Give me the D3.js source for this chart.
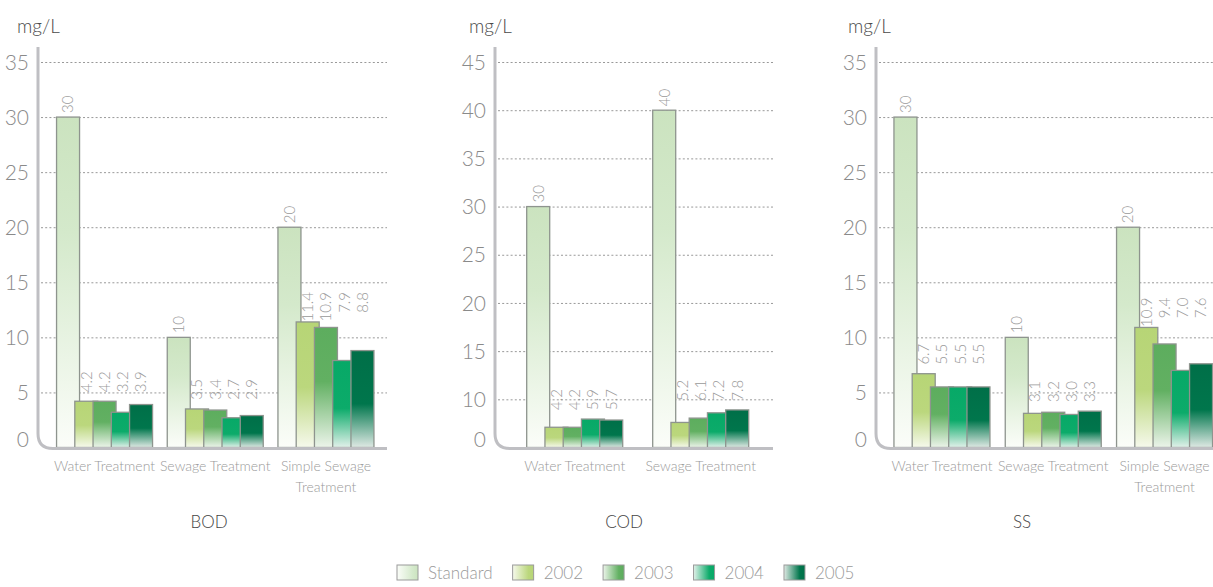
<!DOCTYPE html>
<html>
<head>
<meta charset="utf-8">
<script src="https://cdn.jsdelivr.net/npm/d3@7"></script>
<style>
  html, body { margin: 0; padding: 0; background: #fff; }
  svg { display: block; font-family: Lato, "Open Sans", sans-serif; font-weight: 300; }
</style>
</head>
<body>
<svg id="chart" width="1213" height="587"></svg>
<script>
// ---- data ----
const seriesNames = ["Standard", "2002", "2003", "2004", "2005"];

const bodCategories = ["Water Treatment", "Sewage Treatment", "Simple Sewage Treatment"];
const bodStandard = [30, 10, 20];
const bod2002 = [4.2, 3.5, 11.4];
const bod2003 = [4.2, 3.4, 10.9];
const bod2004 = [3.2, 2.7, 7.9];
const bod2005 = [3.9, 2.9, 8.8];
const bodTicks = [0, 5, 10, 15, 20, 25, 30, 35];

const codCategories = ["Water Treatment", "Sewage Treatment"];
const codStandard = [30, 40];
const cod2002 = [4.2, 5.2];
const cod2003 = [4.2, 6.1];
const cod2004 = [5.9, 7.2];
const cod2005 = [5.7, 7.8];
const codTicks = [0, 10, 15, 20, 25, 30, 35, 40, 45];

const ssCategories = ["Water Treatment", "Sewage Treatment", "Simple Sewage Treatment"];
const ssStandard = [30, 10, 20];
const ss2002 = [6.7, 3.1, 10.9];
const ss2003 = [5.5, 3.2, 9.4];
const ss2004 = [5.5, 3.0, 7.0];
const ss2005 = [5.5, 3.3, 7.6];
const ssTicks = [0, 5, 10, 15, 20, 25, 30, 35];

const unitLabel = "mg/L";

// ---- panel layout ----
const panels = [
  { title: "BOD", categories: bodCategories, values: [bodStandard, bod2002, bod2003, bod2004, bod2005], ticks: bodTicks,
    axisX: 38, right: 387, bandStart: 49.2, bandStep: 110.7, titleX: 209, unitX: 17 },
  { title: "COD", categories: codCategories, values: [codStandard, cod2002, cod2003, cod2004, cod2005], ticks: codTicks,
    axisX: 495, right: 773, bandStart: 511.7, bandStep: 126, titleX: 624, unitX: 469 },
  { title: "SS", categories: ssCategories, values: [ssStandard, ss2002, ss2003, ss2004, ss2005], ticks: ssTicks,
    axisX: 876, right: 1213, bandStart: 886.3, bandStep: 111.3, titleX: 1022, unitX: 848 }
];

const plotTop = 62, plotBottom = 447.5, axisTop = 47;
const barW = 23, groupW = 96;

// fill colours for each series: [top colour, colour held down to `hold`, pale bottom colour]
const fills = {
  "Standard": { top: "#cbe3bf", mid: "#d4e9cb", hold: 0.35, low: "#fbfdf9" },
  "2002":     { top: "#b7d576", mid: "#bbd77d", hold: 0.52, low: "#f6f9ec" },
  "2003":     { top: "#5dad5e", mid: "#62b062", hold: 0.45, low: "#ecf4ea" },
  "2004":     { top: "#07a967", mid: "#0cab6a", hold: 0.55, low: "#e2f1ea" },
  "2005":     { top: "#006f48", mid: "#00764c", hold: 0.55, low: "#dfe9e4" }
};

const svg = d3.select("#chart");
const defs = svg.append("defs");

seriesNames.forEach((s, i) => {
  const f = fills[s];
  const g = defs.append("linearGradient").attr("id", "bar-" + i)
    .attr("x1", 0).attr("y1", 0).attr("x2", 0).attr("y2", 1);
  g.append("stop").attr("offset", 0).attr("stop-color", f.top);
  g.append("stop").attr("offset", f.hold).attr("stop-color", f.mid);
  g.append("stop").attr("offset", 1).attr("stop-color", f.low);

  const h = defs.append("linearGradient").attr("id", "key-" + i)
    .attr("x1", 0).attr("y1", 0).attr("x2", 1).attr("y2", 0);
  h.append("stop").attr("offset", 0).attr("stop-color", f.low);
  h.append("stop").attr("offset", 0.75).attr("stop-color", f.mid);
  h.append("stop").attr("offset", 1).attr("stop-color", f.top);
});

const fmtStd = d3.format("d");
const fmtYear = d3.format(".1f");

function wrap(text, width) {
  text.each(function () {
    const t = d3.select(this);
    const words = t.text().split(/\s+/);
    const x = t.attr("x");
    t.text(null);
    let line = [];
    let tspan = t.append("tspan").attr("x", x).attr("dy", 0);
    words.forEach(w => {
      line.push(w);
      tspan.text(line.join(" "));
      if (tspan.node().getComputedTextLength() > width && line.length > 1) {
        line.pop();
        tspan.text(line.join(" "));
        line = [w];
        tspan = t.append("tspan").attr("x", x).attr("dy", 21).text(w);
      }
    });
  });
}

panels.forEach(p => {
  const g = svg.append("g");

  // ticks are evenly spaced up the axis
  const y = d3.scaleLinear()
    .domain(p.ticks)
    .range(p.ticks.map((t, i) => plotBottom - i * (plotBottom - plotTop) / (p.ticks.length - 1)));

  const x0 = d3.scaleBand().domain(p.categories)
    .range([p.bandStart, p.bandStart + p.bandStep * p.categories.length]);
  const x1 = d3.scalePoint().domain(seriesNames).range([0, groupW - barW]);
  const groupOffset = (x0.bandwidth() - groupW) / 2;

  // dotted gridlines
  const grid = g.append("g").attr("transform", `translate(${p.axisX + 3},0)`)
    .call(d3.axisRight(y).tickValues(p.ticks.filter(t => t !== 0))
      .tickSize(p.right - p.axisX - 3).tickFormat(""));
  grid.select(".domain").remove();
  grid.selectAll(".tick line")
    .attr("stroke", "#999").attr("stroke-width", 1).attr("stroke-dasharray", "2,2.2");

  // tick labels
  const ax = g.append("g").attr("transform", `translate(${p.axisX},0)`)
    .call(d3.axisLeft(y).tickValues(p.ticks).tickSize(0).tickPadding(9));
  ax.select(".domain").remove();
  ax.selectAll(".tick text")
    .attr("font-family", "Lato, sans-serif").attr("font-weight", 300)
    .attr("font-size", 21).attr("fill", "#8a8a8a")
    .attr("dy", d => d === 0 ? "-0.05em" : "0.34em");

  // unit
  g.append("text").attr("x", p.unitX).attr("y", 33)
    .attr("font-size", 19).attr("fill", "#4a4a4a").text(unitLabel);

  // bars: each series laid over the previous one
  const bars = [];
  seriesNames.forEach((s, si) => {
    p.categories.forEach((c, ci) => {
      bars.push({ s, si, c, ci, v: p.values[si][ci] });
    });
  });
  const barX = d => x0(d.c) + groupOffset + x1(d.s);

  g.append("g").selectAll("rect").data(bars).join("rect")
    .attr("x", barX)
    .attr("y", d => y(d.v))
    .attr("width", barW)
    .attr("height", d => y(0) - y(d.v))
    .attr("fill", d => `url(#bar-${d.si})`)
    .attr("stroke", "#8e948e")
    .attr("stroke-width", 1.3);

  // value labels
  const labels = g.append("g")
    .attr("font-size", 15).attr("fill", "#9a9a9a");
  bars.forEach(d => {
    const cx = barX(d) + barW / 2;
    let yPos, anchor, txt;
    if (d.si === 0) {
      yPos = y(d.v) - 4; anchor = "start"; txt = fmtStd(d.v);
    } else {
      const maxYear = d3.max(p.values.slice(1), arr => arr[d.ci]);
      yPos = y(maxYear) - 30; anchor = "end"; txt = fmtYear(d.v);
    }
    labels.append("text")
      .attr("transform", `translate(${cx},${yPos}) rotate(-90)`)
      .attr("text-anchor", anchor)
      .attr("dy", "0.36em")
      .text(txt);
  });

  // axis frame with rounded corner
  const r = 15;
  g.append("path")
    .attr("d", `M${p.axisX},${axisTop} V${plotBottom + 1 - r} Q${p.axisX},${plotBottom + 1} ${p.axisX + r},${plotBottom + 1} H${p.right}`)
    .attr("fill", "none").attr("stroke", "#bfbfc3").attr("stroke-width", 3);

  // category labels
  g.append("g").selectAll("text").data(p.categories).join("text")
    .attr("x", c => x0(c) + x0.bandwidth() / 2)
    .attr("y", 471)
    .attr("text-anchor", "middle")
    .attr("font-size", 14).attr("fill", "#9a9a9a")
    .text(c => c)
    .call(wrap, 118);

  // panel title
  g.append("text").attr("x", p.titleX).attr("y", 528)
    .attr("text-anchor", "middle").attr("font-size", 17)
    .attr("fill", "#444").text(p.title);
});

// legend
const legend = svg.append("g").attr("font-size", 17).attr("fill", "#9a9a9a");
let lx = 397;
seriesNames.forEach((s, i) => {
  legend.append("rect").attr("x", lx).attr("y", 565).attr("width", 21).attr("height", 15)
    .attr("fill", `url(#key-${i})`).attr("stroke", "#9a9a9a").attr("stroke-width", 1);
  const t = legend.append("text").attr("x", lx + 31).attr("y", 579).text(s);
  lx += 31 + t.node().getComputedTextLength() + 20;
});
</script>
</body>
</html>
